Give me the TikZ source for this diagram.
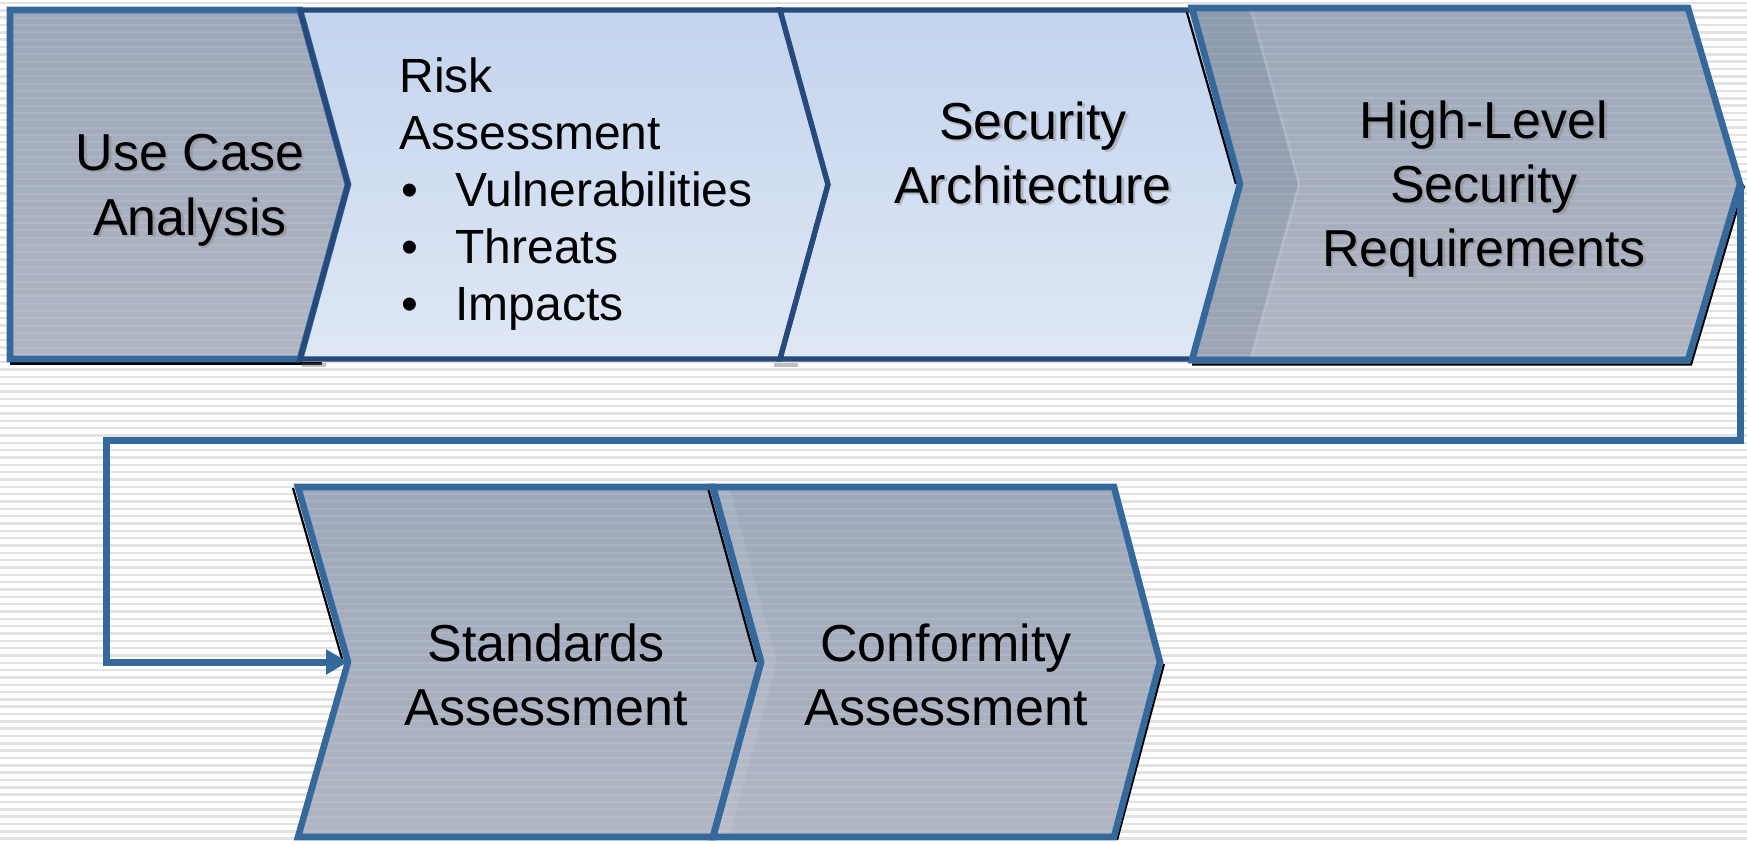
\documentclass[tikz,border=0pt]{standalone}
\usepackage{fontspec}
\setmainfont{Liberation Sans}
\usetikzlibrary{arrows.meta,shadings}

\definecolor{edgeblue}{HTML}{35699C}
\definecolor{edgenavy}{HTML}{264A7B}
\definecolor{greytop}{HTML}{9CA8BA}
\definecolor{greybot}{HTML}{B0B5C2}
\definecolor{paletop}{HTML}{C3D4EE}
\definecolor{palebot}{HTML}{DFE7F4}
\definecolor{stripe}{HTML}{E2E2E2}

% chevron outline: #1 style, #2 left x, #3 right x, #4 top y, #5 bottom y,
% #6 depth of the right point, #7 depth of the left notch
\newcommand{\chevbox}[7]{%
  \path[#1] (#2,#4) -- (#3,#4) -- ({#3+#6},{(#4+#5)/2}) -- (#3,#5)
    -- (#2,#5) -- ({#2+#7},{(#4+#5)/2}) -- cycle;}
% faint horizontal ruling inside a chevron
\newcommand{\chevrule}[6]{%
  \begin{scope}
    \clip (#1,#3) -- (#2,#3) -- ({#2+#5},{(#3+#4)/2}) -- (#2,#4)
      -- (#1,#4) -- ({#1+#6},{(#3+#4)/2}) -- cycle;
    \foreach \k in {0,...,115}
      \draw[white, opacity=0.1, line width=1pt] (0,{3+\k*7.33}) -- (1747,{3+\k*7.33});
  \end{scope}}

\tikzset{
  greybox/.style={top color=greytop, bottom color=greybot},
  palebox/.style={top color=paletop, bottom color=palebot},
  rim/.style={draw=edgeblue, line width=3.3pt, line join=miter},
  darkrim/.style={draw=edgenavy, line width=2.6pt, line join=miter},
  dropline/.style={draw=black, line width=1.1pt},
  bigtext/.style={font=\fontsize{26pt}{32pt}\selectfont, anchor=base, inner sep=0pt},
  smalltext/.style={font=\fontsize{24pt}{28pt}\selectfont, anchor=base west, inner sep=0pt},
  textshade/.style={bigtext, text=black!50, opacity=0.4},
  conn/.style={draw=edgeblue, line width=3.5pt, line join=miter,
    -{Triangle[length=11pt,width=12pt]}}
}

\newcommand{\shadedlabel}[4]{%
  \node[textshade] (#1s) at ({#2+2.5},{#3+2.5}) {#4};
  \node[bigtext] (#1) at (#2,#3) {#4};}

\begin{document}
\begin{tikzpicture}[x=0.5pt,y=-0.5pt]
\useasboundingbox (0,0) rectangle (1747,843);
\fill[white] (0,0) rectangle (1747,843);
% ruled slide background
\foreach \k in {0,...,115}
  \draw[stripe, line width=1.2pt] (0,{3+\k*7.33}) -- (1747,{3+\k*7.33});

% ---- fills, upper row
\chevbox{greybox}{10}{300}{10}{359}{48}{0}
\chevrule{10}{300}{10}{359}{48}{0}
\chevbox{palebox}{300}{780}{10}{359}{48}{48}
\chevbox{palebox}{780}{1192}{10}{359}{48}{48}
\chevbox{greybox}{1192}{1688}{8}{360}{52}{48}
\chevrule{1192}{1688}{8}{360}{52}{48}
% bevel band along the notch of the last upper step
\fill[black!40!edgeblue, opacity=0.12] (1192,8) -- (1251,8) -- (1299,184) -- (1251,360)
  -- (1192,360) -- (1240,184) -- cycle;
\draw[white, opacity=0.2, line width=1.2pt] (1251,10) -- (1299,184) -- (1251,358);

% ---- fills, lower row
\chevbox{greybox}{298}{713}{487}{837}{48}{50}
\chevrule{298}{713}{487}{837}{48}{50}
\chevbox{greybox}{713}{1114}{487}{837}{46}{48}
\chevrule{713}{1114}{487}{837}{46}{48}
\fill[white, opacity=0.1] (713,487) -- (729,487) -- (777,662) -- (729,837)
  -- (713,837) -- (761,662) -- cycle;

% ---- drop shadows
\draw[dropline] (10,363.5) -- (322,363.5);
\draw[black!60, line width=2pt, opacity=0.4] (302,365) -- (326,365);
\draw[black!60, line width=2pt, opacity=0.4] (774,365) -- (798,365);
\draw[dropline] (1186,9) -- (1236,184);
\draw[dropline] (1192,364.5) -- (1691,364.5) -- (1744,186);
\draw[dropline] (293,488) -- (343,662);
\draw[dropline] (708,488) -- (756,662);
\draw[dropline] (1164,664) -- (1117,840);

% ---- outlines
\chevbox{rim}{10}{300}{10}{359}{48}{0}
\chevbox{darkrim}{300}{780}{10}{359}{48}{48}
\chevbox{darkrim}{780}{1192}{10}{359}{48}{48}
\chevbox{rim}{1192}{1688}{8}{360}{52}{48}
\chevbox{rim}{298}{713}{487}{837}{48}{50}
\chevbox{rim}{713}{1114}{487}{837}{46}{48}

% ---- connector from the last upper step to the first lower step
\coordinate (b4tip) at (1740,184);
\coordinate (loopturn) at (106,440);
\coordinate (b5notch) at (348,662);
\draw[conn] (b4tip) |- (loopturn) |- (b5notch);

% ---- labels
\shadedlabel{ucA}{190}{170}{Use Case}
\shadedlabel{ucB}{190}{235}{Analysis}

\node[smalltext] (raA) at (399,92) {Risk};
\node[smalltext] (raB) at (399,149) {Assessment};
\node[smalltext, anchor=base] (raC1) at (410,206) {•};
\node[smalltext] (raC) at (455,206) {Vulnerabilities};
\node[smalltext, anchor=base] (raD1) at (410,263) {•};
\node[smalltext] (raD) at (455,263) {Threats};
\node[smalltext, anchor=base] (raE1) at (410,320) {•};
\node[smalltext] (raE) at (455,320) {Impacts};

\shadedlabel{saA}{1033}{139}{Security}
\shadedlabel{saB}{1033}{203}{Architecture}

\shadedlabel{hlA}{1484}{138}{High-Level}
\shadedlabel{hlB}{1484}{202}{Security}
\shadedlabel{hlC}{1484}{266}{Requirements}

\node[bigtext] (stA) at (546,661) {Standards};
\node[bigtext] (stB) at (546,725) {Assessment};
\node[bigtext] (coA) at (946,661) {Conformity};
\node[bigtext] (coB) at (946,725) {Assessment};
\end{tikzpicture}
\end{document}
